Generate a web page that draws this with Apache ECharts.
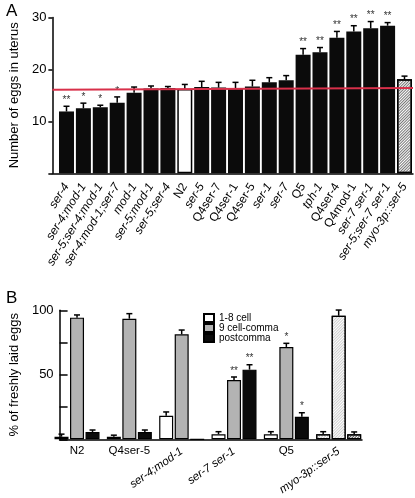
<!DOCTYPE html>
<html><head><meta charset="utf-8">
<script src="https://cdn.jsdelivr.net/npm/echarts@6/dist/echarts.min.js"></script>
<style>html,body{margin:0;padding:0;background:#fff}#c{width:415px;height:498px}</style>
</head><body><div id="c"></div>
<script>
// ---------- Panel A data ----------
const strainsA = ['ser-4','ser-4;mod-1','ser-5;ser-4;mod-1','ser-4;mod-1;ser-7','mod-1','ser-5;mod-1','ser-5;ser-4','N2','ser-5','Q4ser-7','Q4ser-1','Q4ser-5','ser-1','ser-7','Q5','tph-1','Q4ser-4','Q4mod-1','ser-7 ser-1','ser-5;ser-7 ser-1','myo-3p::ser-5'];
const eggsMean = [11.9,12.5,12.7,13.6,15.5,16.3,16.4,16.2,16.6,16.5,16.4,16.7,17.5,17.9,22.8,23.3,26.1,27.3,27.9,28.4,18.1];
const eggsSem  = [1.0,1.0,0.4,1.1,1.1,0.5,0.3,0.9,1.1,1.0,1.1,1.2,0.9,0.9,1.2,0.9,1.2,1.1,1.3,0.6,0.6];
const eggsSig  = ['**','*','*','*','','','','','','','','','','','**','**','**','**','**','**',''];
const n2Line   = [16.1, 16.4];
const yLabelsA = [10, 20, 30];

// ---------- Panel B data ----------
const strainsB = ['N2','Q4ser-5','ser-4;mod-1','ser-7 ser-1','Q5','myo-3p::ser-5'];
const stageNames = ['1-8 cell','9 cell-comma','postcomma'];
const cell18     = [2.0, 2.0, 18.3, 3.9, 3.9, 3.9];
const cell18Sem  = [2.0, 1.2, 2.9, 2.0, 2.0, 2.0];
const cellComma  = [94.3, 93.5, 81.4, 46.0, 71.6, 95.8];
const commaSem   = [2.1, 3.9, 3.3, 2.3, 2.8, 4.4];
const postComma  = [5.7, 5.7, 0, 54.0, 17.5, 3.9];
const postSem    = [1.5, 1.5, 0, 3.8, 3.1, 1.8];
const sig18      = ['','','','','',''];
const sigComma   = ['','','','**','*',''];
const sigPost    = ['','','','**','*',''];
const yLabelsB   = [50, 100];

const F = 'Liberation Sans, Arial, sans-serif';
const upright = n => n === 'N2' || /^Q\d/.test(n);

function errSeries(xi, yi, means, sems, sigs, offset, z) {
  return {
    type: 'custom', xAxisIndex: xi, yAxisIndex: yi, z: z || 5,
    data: means.map((m, i) => [i, m, m + sems[i], sems[i]]),
    renderItem(params, api) {
      const i = api.value(0), top = api.value(1), hi = api.value(2), s = api.value(3);
      const p0 = api.coord([i, top]), p1 = api.coord([i, hi]);
      const x = p0[0] + offset;
      const ch = [];
      if (s > 0) {
        ch.push({type:'line', shape:{x1:x,y1:p0[1],x2:x,y2:p1[1]}, style:{stroke:'#000',lineWidth:1.5}});
        ch.push({type:'line', shape:{x1:x-3,y1:p1[1],x2:x+3,y2:p1[1]}, style:{stroke:'#000',lineWidth:1.5}});
      }
      const sg = sigs[params.dataIndex];
      if (sg) ch.push({type:'text', style:{text:sg, x:x, y:p1[1]-1, align:'center', verticalAlign:'bottom', font:'10px ' + F, fill:'#333'}});
      return {type:'group', children: ch};
    }
  };
}

const hatch = (c, gap) => ({symbol:'rect', dashArrayX:[1,0], dashArrayY:[1, gap], rotation:-Math.PI/4, color:c, symbolSize:1});

const barsA = eggsMean.map((v, i) => {
  const n = strainsA[i];
  if (n === 'N2') return {value:v, itemStyle:{color:'#fff', borderColor:'#000', borderWidth:1.5}};
  if (n === 'myo-3p::ser-5') return {value:v, itemStyle:{color:'#fff', borderColor:'#000', borderWidth:1.5, decal:hatch('#777', 1)}};
  return {value:v};
});

const hatchB = [hatch('#c8c8c8', 1), hatch('#cfcfcf', 1), hatch('#555', 1)];
function barsB(vals, k) {
  return vals.map((v, i) => strainsB[i] === 'myo-3p::ser-5'
    ? {value:v, itemStyle:{color:'#fff', decal:hatchB[k]}} : {value:v});
}
const stageColors = ['#ffffff', '#b3b3b3', '#0b0b0b'];
const bOff = 15.5;

const chart = echarts.init(document.getElementById('c'), null, {renderer:'canvas'});
chart.setOption({
  animation: false,
  backgroundColor: '#fff',
  textStyle: {fontFamily: F},
  title: [
    {text:'A', left:1, top:-2, textStyle:{fontSize:17, fontWeight:'normal', color:'#000', fontFamily:F}},
    {text:'B', left:1, top:285, textStyle:{fontSize:17, fontWeight:'normal', color:'#000', fontFamily:F}}
  ],
  legend: {
    data: stageNames, orient:'vertical', left:203, top:313, padding:0, itemWidth:10, itemHeight:8, itemGap:0,
    icon:'rect', selectedMode:false,
    textStyle:{fontSize:10, lineHeight:10, color:'#000', fontFamily:F}
  },
  grid: [
    {left:44, top:17.4, width:369, height:155.9},
    {left:58.05, top:17.4, width:354.9, height:155.9},
    {left:44, top:310.3, width:318, height:129},
    {left:50.85, top:310.3, width:314, height:129}
  ],
  xAxis: [
    {gridIndex:0, type:'category', data:['',''], boundaryGap:false,
     axisLine:{lineStyle:{color:'#000', width:1.5}}, axisTick:{show:false}, axisLabel:{show:false}},
    {gridIndex:1, type:'category', data:strainsA, axisLine:{show:false}, axisTick:{show:false},
     axisLabel:{interval:0, rotate:58, margin:11, fontSize:12, color:'#000', fontFamily:F,
       formatter: n => upright(n) ? '{n|' + n + '}' : '{i|' + n + '}',
       rich:{n:{fontSize:12, fontStyle:'normal', fontFamily:F}, i:{fontSize:12, fontStyle:'italic', fontFamily:F}}}},
    {gridIndex:2, type:'category', data:['',''], boundaryGap:false,
     axisLine:{lineStyle:{color:'#000', width:1.5}}, axisTick:{show:false}, axisLabel:{show:false}},
    {gridIndex:3, type:'category', data:strainsB, position:'bottom', axisLine:{show:false}, axisTick:{show:false},
     axisLabel:{interval:0, margin:6, fontSize:11.5, color:'#000', fontFamily:F,
       formatter: n => upright(n) ? n : ''}},
    {gridIndex:3, type:'category', data:strainsB, position:'bottom', axisLine:{show:false}, axisTick:{show:false},
     axisLabel:{interval:0, rotate:35, margin:11, fontSize:11.5, fontStyle:'italic', color:'#000', fontFamily:F,
       formatter: n => upright(n) ? '' : n}}
  ],
  yAxis: [
    {gridIndex:0, type:'value', min:0, max:30, interval:10,
     name:'Number of eggs in uterus', nameLocation:'middle', nameGap:29,
     nameTextStyle:{fontSize:13, color:'#000', fontFamily:F},
     axisLine:{show:true, lineStyle:{color:'#000', width:1.5}},
     axisTick:{show:true, length:4, lineStyle:{color:'#000', width:1.5}},
     axisLabel:{fontSize:13, color:'#000', margin:6, fontFamily:F, formatter: v => yLabelsA.includes(v) ? String(v) : ''},
     splitLine:{show:false}},
    {gridIndex:1, type:'value', min:0, max:30, show:false, splitLine:{show:false}},
    {gridIndex:2, type:'value', min:0, max:100, interval:25,
     name:'% of freshly laid eggs', nameLocation:'middle', nameGap:29,
     nameTextStyle:{fontSize:13, color:'#000', fontFamily:F},
     axisLine:{show:true, lineStyle:{color:'#000', width:1.5}},
     axisTick:{show:true, inside:true, length:8, lineStyle:{color:'#000', width:1.5}},
     axisLabel:{fontSize:13, color:'#000', margin:6, fontFamily:F, formatter: v => yLabelsB.includes(v) ? String(v) : ''},
     splitLine:{show:false}},
    {gridIndex:3, type:'value', min:0, max:100, show:false, splitLine:{show:false}}
  ],
  series: [
    {type:'bar', xAxisIndex:1, yAxisIndex:1, data:barsA, barWidth:15, itemStyle:{color:'#0b0b0b'}, z:2},
    errSeries(1, 1, eggsMean, eggsSem, eggsSig, 0, 4),
    {type:'line', xAxisIndex:0, yAxisIndex:0, data:n2Line, symbol:'none', lineStyle:{color:'#d8304a', width:2}, z:6},

    {type:'bar', name:stageNames[0], xAxisIndex:3, yAxisIndex:3, data:barsB(cell18,0), barWidth:14, barGap:'10.7%',
     itemStyle:{color:stageColors[0], borderColor:'#000', borderWidth:1.2}},
    {type:'bar', name:stageNames[1], xAxisIndex:3, yAxisIndex:3, data:barsB(cellComma,1), barWidth:14, barGap:'10.7%',
     itemStyle:{color:stageColors[1], borderColor:'#000', borderWidth:1.2}},
    {type:'bar', name:stageNames[2], xAxisIndex:3, yAxisIndex:3, data:barsB(postComma,2), barWidth:14, barGap:'10.7%',
     itemStyle:{color:stageColors[2], borderColor:'#000', borderWidth:1.2}},
    errSeries(3, 3, cell18, cell18Sem, sig18, -bOff, 5),
    errSeries(3, 3, cellComma, commaSem, sigComma, 0, 5),
    errSeries(3, 3, postComma, postSem, sigPost, bOff, 5)
  ]
});
</script>
</body></html>
